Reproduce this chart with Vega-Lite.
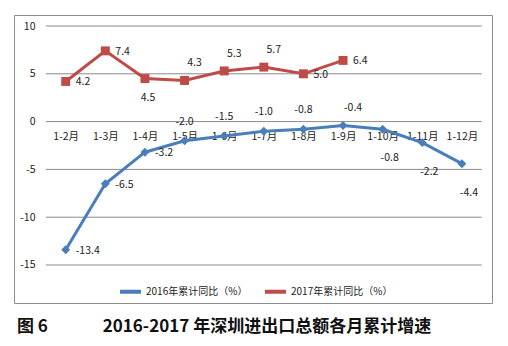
{
  "$schema": "https://vega.github.io/schema/vega-lite/v6.json",
  "width": 478,
  "height": 288,
  "padding": {"left": 14, "top": 15, "right": 16, "bottom": 5},
  "background": "white",
  "config": {
    "view": {"stroke": "#8c8c8c", "strokeWidth": 1},
    "font": "Noto Sans CJK SC",
    "locale": {"number": {"decimal": ".", "thousands": ",", "grouping": [3], "currency": ["", ""], "minus": "-"}}
  },
  "title": {
    "text": "图 6　　　  2016-2017 年深圳进出口总额各月累计增速",
    "orient": "bottom",
    "anchor": "start",
    "frame": "group",
    "offset": 16,
    "dx": 3,
    "fontSize": 17,
    "fontWeight": "bold",
    "font": "Noto Sans CJK SC",
    "color": "#111111"
  },
  "data": {
    "values": [
      {"series": "2016年累计同比（%）", "month": "1-2月", "value": -13.4},
      {"series": "2016年累计同比（%）", "month": "1-3月", "value": -6.5},
      {"series": "2016年累计同比（%）", "month": "1-4月", "value": -3.2},
      {"series": "2016年累计同比（%）", "month": "1-5月", "value": -2.0},
      {"series": "2016年累计同比（%）", "month": "1-6月", "value": -1.5},
      {"series": "2016年累计同比（%）", "month": "1-7月", "value": -1.0},
      {"series": "2016年累计同比（%）", "month": "1-8月", "value": -0.8},
      {"series": "2016年累计同比（%）", "month": "1-9月", "value": -0.4},
      {"series": "2016年累计同比（%）", "month": "1-10月", "value": -0.8},
      {"series": "2016年累计同比（%）", "month": "1-11月", "value": -2.2},
      {"series": "2016年累计同比（%）", "month": "1-12月", "value": -4.4},
      {"series": "2017年累计同比（%）", "month": "1-2月", "value": 4.2},
      {"series": "2017年累计同比（%）", "month": "1-3月", "value": 7.4},
      {"series": "2017年累计同比（%）", "month": "1-4月", "value": 4.5},
      {"series": "2017年累计同比（%）", "month": "1-5月", "value": 4.3},
      {"series": "2017年累计同比（%）", "month": "1-6月", "value": 5.3},
      {"series": "2017年累计同比（%）", "month": "1-7月", "value": 5.7},
      {"series": "2017年累计同比（%）", "month": "1-8月", "value": 5.0},
      {"series": "2017年累计同比（%）", "month": "1-9月", "value": 6.4}
    ]
  },
  "encoding": {
    "x": {
      "field": "month",
      "type": "ordinal",
      "scale": {
        "type": "point",
        "domain": ["1-2月", "1-3月", "1-4月", "1-5月", "1-6月", "1-7月", "1-8月", "1-9月", "1-10月", "1-11月", "1-12月"],
        "range": [31.9, 467.7],
        "padding": 0.5
      },
      "axis": {
        "orient": "bottom",
        "offset": -181,
        "domain": false,
        "ticks": false,
        "grid": false,
        "labelAngle": 0,
        "labelPadding": 9,
        "labelFontSize": 10.5,
        "labelColor": "#222222",
        "labelFont": "Noto Sans CJK SC",
        "title": null
      }
    },
    "y": {
      "field": "value",
      "type": "quantitative",
      "scale": {"domain": [-18.975, 11.151], "nice": false, "zero": false},
      "axis": {
        "values": [-15, -10, -5, 0, 5, 10],
        "orient": "left",
        "offset": -23,
        "domain": false,
        "ticks": false,
        "grid": false,
        "labelPadding": 2,
        "labelFontSize": 10.5,
        "labelColor": "#222222",
        "labelFont": "Noto Sans CJK SC",
        "title": null
      }
    }
  },
  "layer": [
    {
      "data": {"values": [{"value": -15}, {"value": -10}, {"value": -5}, {"value": 0}, {"value": 5}, {"value": 10}]},
      "mark": {"type": "rule", "color": "#8a8a8a", "strokeWidth": 1, "xOffset": -19.8, "x2Offset": 19.8},
      "encoding": {
        "x": {"datum": "1-2月", "type": "ordinal"},
        "x2": {"datum": "1-12月"}
      }
    },
    {
      "mark": {"type": "line", "strokeWidth": 3},
      "encoding": {
        "color": {
          "field": "series",
          "type": "nominal",
          "scale": {"domain": ["2016年累计同比（%）", "2017年累计同比（%）"], "range": ["#4A7EBB", "#BE4B48"]},
          "legend": {
            "title": null,
            "orient": "none",
            "legendX": 104,
            "legendY": 264,
            "direction": "horizontal",
            "symbolType": "stroke",
            "symbolSize": 441,
            "symbolStrokeWidth": 4,
            "columnPadding": 9,
            "labelOffset": 3,
            "labelFontSize": 10,
            "labelColor": "#222222",
            "labelFont": "Noto Sans CJK SC",
            "padding": 0
          }
        }
      }
    },
    {
      "transform": [{"filter": "indexof(datum.series,'2016')>=0"}],
      "mark": {"type": "point", "filled": true, "opacity": 1, "shape": "diamond", "size": 80, "color": "#4A7EBB"}
    },
    {
      "transform": [{"filter": "indexof(datum.series,'2017')>=0"}],
      "mark": {"type": "point", "filled": true, "opacity": 1, "shape": "square", "size": 80, "color": "#BE4B48"}
    },
    {
      "transform": [{"filter": "(indexof(datum.series,'2016')>=0 && indexof(['1-2月','1-3月','1-4月'], datum.month)>=0) || (indexof(datum.series,'2017')>=0 && indexof(['1-2月','1-3月','1-8月','1-9月'], datum.month)>=0)"}],
      "mark": {"type": "text", "align": "left", "baseline": "middle", "dx": 10, "dy": 1, "fontSize": 10.5, "color": "#222222"},
      "encoding": {"text": {"field": "value", "type": "quantitative", "format": ".1f"}}
    },
    {
      "transform": [{"filter": "indexof(datum.series,'2016')>=0 && indexof(['1-5月','1-6月','1-7月','1-8月'], datum.month)>=0"}],
      "mark": {"type": "text", "align": "center", "baseline": "middle", "dx": 0, "dy": -19, "fontSize": 10.5, "color": "#222222"},
      "encoding": {"text": {"field": "value", "type": "quantitative", "format": ".1f"}}
    },
    {
      "transform": [{"filter": "(indexof(datum.series,'2016')>=0 && datum.month=='1-9月') || (indexof(datum.series,'2017')>=0 && indexof(['1-5月','1-6月','1-7月'], datum.month)>=0)"}],
      "mark": {"type": "text", "align": "center", "baseline": "middle", "dx": 10, "dy": -17, "fontSize": 10.5, "color": "#222222"},
      "encoding": {"text": {"field": "value", "type": "quantitative", "format": ".1f"}}
    },
    {
      "transform": [{"filter": "indexof(datum.series,'2016')>=0 && indexof(['1-10月','1-11月','1-12月'], datum.month)>=0"}],
      "mark": {"type": "text", "align": "center", "baseline": "middle", "dx": 7, "dy": 29, "fontSize": 10.5, "color": "#222222"},
      "encoding": {"text": {"field": "value", "type": "quantitative", "format": ".1f"}}
    },
    {
      "transform": [{"filter": "indexof(datum.series,'2017')>=0 && datum.month=='1-4月'"}],
      "mark": {"type": "text", "align": "center", "baseline": "middle", "dx": 3, "dy": 19, "fontSize": 10.5, "color": "#222222"},
      "encoding": {"text": {"field": "value", "type": "quantitative", "format": ".1f"}}
    }
  ]
}
